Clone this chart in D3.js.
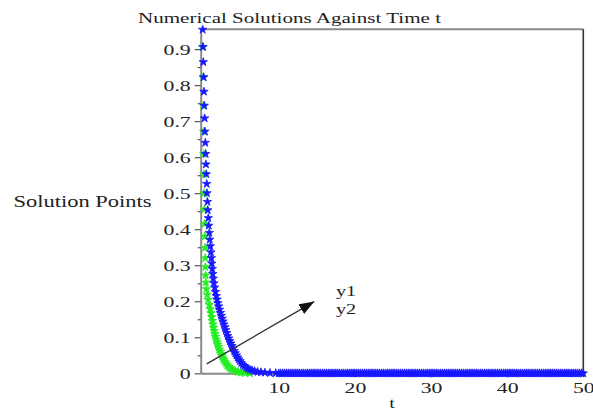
<!DOCTYPE html>
<html>
<head>
<meta charset="utf-8">
<script src="https://cdn.jsdelivr.net/npm/d3@7"></script>
<style>
  body { margin: 0; background: #fff; }
  svg { display: block; }
  text { font-family: "Liberation Serif", "Times New Roman", serif; fill: #222; }
</style>
</head>
<body>
<script>
// data
// y2 (blue)
const tBlue = [0,0.04,0.08,0.13,0.17,0.21,0.26,0.30,0.34,0.39,0.43,0.47,0.53,0.56,
  0.62,0.67,0.74,0.80,0.87,0.93,1.01,1.08,1.14,1.20,1.26,1.33,1.39,1.48,1.58,1.68,1.79,1.89,2.00,
  2.10,2.21,2.33,2.44,2.56,2.68,2.80,2.92,3.03,3.17,3.30,3.43,3.56,3.70,3.85,3.99,4.14,4.28,4.43,
  4.58,4.74,4.90,5.07,5.27,5.47,5.69,5.92,6.19,6.48,6.81,7.2,7.66,8.18,8.84,9.6];
const y2 = [0.954,0.906,0.864,0.822,0.782,0.743,0.708,0.671,0.640,0.609,0.580,0.553,0.526,0.500,
  0.476,0.453,0.431,0.410,0.390,0.371,0.353,0.336,0.320,0.305,0.290,0.276,0.263,0.250,0.238,0.226,0.215,0.205,0.195,
  0.186,0.177,0.168,0.160,0.152,0.144,0.136,0.128,0.120,0.112,0.104,0.097,0.090,0.083,0.076,0.069,0.062,0.056,0.050,
  0.044,0.039,0.034,0.029,0.024,0.020,0.016,0.013,0.010,0.008,0.006,0.004,0.003,0.002,0.001,0.0005];

// y1 (green)
const tGreen = [0.03,0.07,0.09,0.12,0.14,0.17,0.20,0.22,0.25,0.28,0.30,0.33,0.35,0.38,0.42,0.49,0.59,0.72,0.87,
  1.00,1.09,1.18,1.27,1.35,1.43,1.51,1.60,1.69,1.79,1.88,1.98,2.09,2.19,2.31,2.43,2.55,2.67,2.80,2.93,
  3.09,3.24,3.42,3.61,3.82,4.06,4.32,4.64,5.03,5.56,6.2];
const y1 = [0.906,0.822,0.743,0.671,0.609,0.553,0.500,0.455,0.415,0.380,0.348,0.320,0.295,0.272,0.252,0.234,0.218,0.204,0.190,
  0.178,0.167,0.156,0.146,0.136,0.127,0.118,0.110,0.102,0.094,0.087,0.080,0.073,0.066,0.060,0.054,0.048,0.042,0.037,0.032,
  0.027,0.022,0.018,0.014,0.011,0.008,0.006,0.004,0.002,0.001,0];

// flat tail, both series ~0 (blue on top)
const tTail = [10,10.25,10.5,10.75,11,11.25,11.5,11.75,12,12.25,12.5,12.75,13,13.25,13.5,13.75,14,14.25,14.5,14.75,
  15,15.25,15.5,15.75,16,16.25,16.5,16.75,17,17.25,17.5,17.75,18,18.25,18.5,18.75,19,19.25,19.5,19.75,
  20,20.25,20.5,20.75,21,21.25,21.5,21.75,22,22.25,22.5,22.75,23,23.25,23.5,23.75,24,24.25,24.5,24.75,
  25,25.25,25.5,25.75,26,26.25,26.5,26.75,27,27.25,27.5,27.75,28,28.25,28.5,28.75,29,29.25,29.5,29.75,
  30,30.25,30.5,30.75,31,31.25,31.5,31.75,32,32.25,32.5,32.75,33,33.25,33.5,33.75,34,34.25,34.5,34.75,
  35,35.25,35.5,35.75,36,36.25,36.5,36.75,37,37.25,37.5,37.75,38,38.25,38.5,38.75,39,39.25,39.5,39.75,
  40,40.25,40.5,40.75,41,41.25,41.5,41.75,42,42.25,42.5,42.75,43,43.25,43.5,43.75,44,44.25,44.5,44.75,
  45,45.25,45.5,45.75,46,46.25,46.5,46.75,47,47.25,47.5,47.75,48,48.25,48.5,48.75,49,49.25,49.5,49.75,50];
const yTail = tTail.map(() => 0);

const yTicks = [0,0.1,0.2,0.3,0.4,0.5,0.6,0.7,0.8,0.9];
const yMinor = [0.05,0.15,0.25,0.35,0.45,0.55,0.65,0.75,0.85];
const xTicks = [10,20,30,40,50];
const xMinor = [5,15,25,35,45];

const seriesLabels = ['y1','y2'];

//set up SVG
const SVGWIDTH = 593;
const SVGHEIGHT = 410;
const STRETCH = 1.45;  // text in the picture is drawn wide

let svg = d3.select('body')
  .append('svg')
  .attr('width', SVGWIDTH)
  .attr('height', SVGHEIGHT);

let x = d3.scaleLinear().domain([-0.26, 50]).range([200.7, 583.3]);
let y = d3.scaleLinear().domain([0, 0.955]).range([373.3, 29.3]);

function widen(sel, f) {
  sel.each(function() {
    let w = this.getComputedTextLength();
    d3.select(this).attr('textLength', w * f).attr('lengthAdjust', 'spacingAndGlyphs');
  });
}

// frame top / right
svg.append('line')
  .attr('x1', x.range()[0]).attr('x2', x.range()[1])
  .attr('y1', y(0.955)).attr('y2', y(0.955))
  .attr('stroke', '#8a8a8a').attr('stroke-width', 2);
svg.append('line')
  .attr('x1', x(50)).attr('x2', x(50))
  .attr('y1', y(0.955)).attr('y2', y(0))
  .attr('stroke', '#333').attr('stroke-width', 1.6);

// y axis
let yAxisG = svg.append('g')
  .attr('transform', `translate(${x.range()[0]},0)`)
  .call(d3.axisLeft(y).tickValues(yTicks).tickSize(6).tickSizeOuter(0).tickPadding(4)
    .tickFormat(d => d === 0 ? '0' : d3.format('.1f')(d)));
svg.append('g')
  .attr('transform', `translate(${x.range()[0]},0)`)
  .call(d3.axisLeft(y).tickValues(yMinor).tickSize(3).tickFormat(''))
  .call(g => g.select('.domain').remove());

// x axis
let xAxisG = svg.append('g')
  .attr('transform', `translate(0,${y(0)})`)
  .call(d3.axisBottom(x).tickValues(xTicks).tickSize(4).tickSizeOuter(0));
svg.append('g')
  .attr('transform', `translate(0,${y(0)})`)
  .call(d3.axisBottom(x).tickValues(xMinor).tickSize(2).tickFormat(''))
  .call(g => g.select('.domain').remove());

svg.selectAll('.domain').attr('stroke', '#8a8a8a').attr('stroke-width', 2);
svg.selectAll('.tick line').attr('stroke', '#555').attr('stroke-width', 1.2);

yAxisG.selectAll('text')
  .attr('font-size', 15).attr('font-family', 'Liberation Serif').attr('fill', '#222').attr('dy', '0.33em');
xAxisG.selectAll('text')
  .attr('font-size', 15).attr('font-family', 'Liberation Serif').attr('fill', '#222')
  .attr('y', 20).attr('dy', 0);
widen(yAxisG.selectAll('text'), STRETCH);
widen(xAxisG.selectAll('text'), STRETCH);

// points
let star = d3.symbol().type(d3.symbolStar).size(22);

function drawStars(ts, ys, color) {
  let pts = ts.map((t, i) => ({t: t, v: ys[i]}));
  svg.append('g').selectAll('path')
    .data(pts)
    .enter()
    .append('path')
    .attr('d', star)
    .attr('transform', d => `translate(${x(d.t)},${y(d.v)})`)
    .attr('fill', color)
    .attr('stroke', color)
    .attr('stroke-width', 0.8);
}
drawStars(tGreen, y1, '#22ee22');
drawStars(tTail, yTail, '#1818ff');
drawStars(tBlue, y2, '#1818ff');

// arrow
svg.append('defs').append('marker')
  .attr('id', 'head')
  .attr('markerUnits', 'userSpaceOnUse')
  .attr('markerWidth', 16).attr('markerHeight', 12)
  .attr('refX', 15).attr('refY', 5.5)
  .attr('orient', 'auto')
  .append('path')
  .attr('d', 'M0,0 L15,5.5 L0,11 Z')
  .attr('fill', '#111');

svg.append('line')
  .attr('x1', x(0.53)).attr('y1', y(0.026))
  .attr('x2', x(14.66)).attr('y2', y(0.199))
  .attr('stroke', '#333').attr('stroke-width', 1.3)
  .attr('marker-end', 'url(#head)');

// legend texts
let leg = svg.selectAll('.leg')
  .data(seriesLabels)
  .enter()
  .append('text')
  .attr('class', 'leg')
  .attr('x', x(17.51))
  .attr('y', (d, i) => y(0.215) + i * 18)
  .attr('font-size', 14)
  .text(d => d);
widen(leg, STRETCH);

// labels
svg.append('text')
  .attr('x', 138).attr('y', 23)
  .attr('font-size', 15)
  .attr('textLength', 303).attr('lengthAdjust', 'spacingAndGlyphs')
  .text('Numerical Solutions Against Time t');

svg.append('text')
  .attr('x', 13.5).attr('y', 207)
  .attr('font-size', 16)
  .attr('textLength', 138).attr('lengthAdjust', 'spacingAndGlyphs')
  .text('Solution Points');

let xl = svg.append('text')
  .attr('x', 392).attr('y', 408)
  .attr('text-anchor', 'middle')
  .attr('font-size', 14)
  .text('t');
widen(xl, STRETCH);
</script>
</body>
</html>
